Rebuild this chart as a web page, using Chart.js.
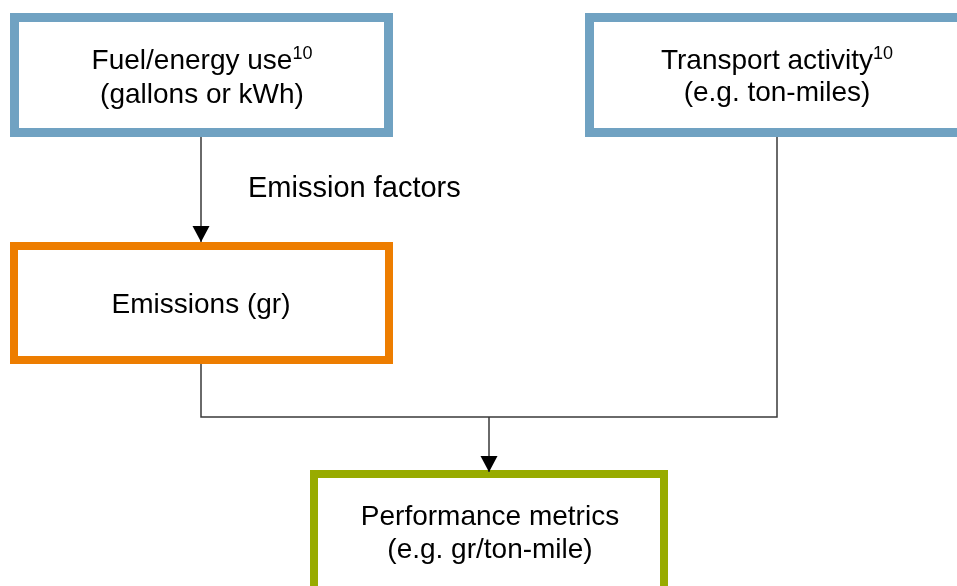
<!DOCTYPE html>
<html>
<head>
<meta charset="utf-8">
<script src="https://cdn.jsdelivr.net/npm/chart.js@4"></script>
<style>
  html, body { margin: 0; padding: 0; background: #fff; }
  #wrap { width: 957px; height: 586px; }
</style>
</head>
<body>
<div id="wrap"><canvas id="myChart" width="957" height="586"></canvas></div>
<script>
// box texts
let boxLines = [
  ['Fuel/energy use', '(gallons or kWh)'],
  ['Transport activity', '(e.g. ton-miles)'],
  ['Emissions (gr)'],
  ['Performance metrics', '(e.g. gr/ton-mile)']
];
let boxSup = ['10', '10', '', ''];
let edgeLabel = 'Emission factors';

// layout of the diagram (in page units, x right / y down)
let boxRect = [
  [10, 13, 393, 137],
  [585, 13, 975, 137],
  [10, 242, 393, 364],
  [310, 470, 668, 600]
];
let boxColor = ['rgb(112,162,194)', 'rgb(112,162,194)', 'rgb(237,125,0)', 'rgb(152,171,0)'];
let boxBorder = [9, 9, 8, 8];
let boxCenterX = [202, 777, 201, 490];
let boxBaseline = [[69, 103], [69, 101], [313], [525, 558]];

// connectors
let links = [
  { pts: [{x: 201, y: 137}, {x: 201, y: 242}], arrow: true },
  { pts: [{x: 201, y: 364}, {x: 201, y: 417}, {x: 777, y: 417}, {x: 777, y: 137}], arrow: false },
  { pts: [{x: 489, y: 417}, {x: 489, y: 472}], arrow: true }
];

let FONT = '"Liberation Sans", Arial, sans-serif';

let diagramPlugin = {
  id: 'diagram',
  beforeDatasetsDraw(chart) {
    let c = chart.ctx, sx = chart.scales.x, sy = chart.scales.y;
    c.save();
    boxRect.forEach((r, i) => {
      let x0 = sx.getPixelForValue(r[0]), y0 = sy.getPixelForValue(r[1]);
      let x1 = sx.getPixelForValue(r[2]), y1 = sy.getPixelForValue(r[3]);
      let b = boxBorder[i];
      c.fillStyle = '#fff';
      c.fillRect(x0, y0, x1 - x0, y1 - y0);
      c.strokeStyle = boxColor[i];
      c.lineWidth = b;
      c.lineJoin = 'miter';
      c.strokeRect(x0 + b / 2, y0 + b / 2, x1 - x0 - b, y1 - y0 - b);
    });
    c.restore();
  },
  afterDatasetsDraw(chart) {
    let c = chart.ctx, sx = chart.scales.x, sy = chart.scales.y;
    c.save();
    // arrow heads
    links.forEach(l => {
      if (!l.arrow) return;
      let p = l.pts[l.pts.length - 1];
      let x = sx.getPixelForValue(p.x), y = sy.getPixelForValue(p.y);
      c.fillStyle = '#000';
      c.beginPath();
      c.moveTo(x, y);
      c.lineTo(x - 8.5, y - 16);
      c.lineTo(x + 8.5, y - 16);
      c.closePath();
      c.fill();
    });
    // box texts
    c.fillStyle = '#000';
    c.textBaseline = 'alphabetic';
    boxLines.forEach((lines, i) => {
      lines.forEach((t, j) => {
        c.font = '28px ' + FONT;
        let w = c.measureText(t).width;
        let sup = j === 0 ? boxSup[i] : '';
        let sw = 0;
        if (sup) {
          c.font = '18px ' + FONT;
          sw = c.measureText(sup).width;
        }
        let cx = sx.getPixelForValue(boxCenterX[i]);
        let by = sy.getPixelForValue(boxBaseline[i][j]);
        let left = cx - (w + sw) / 2;
        c.font = '28px ' + FONT;
        c.textAlign = 'left';
        c.fillText(t, left, by);
        if (sup) {
          c.font = '18px ' + FONT;
          c.fillText(sup, left + w, by - 10);
        }
      });
    });
    c.font = '29px ' + FONT;
    c.textAlign = 'left';
    c.fillText(edgeLabel, sx.getPixelForValue(248), sy.getPixelForValue(197));
    c.restore();
  }
};

let ctx = document.getElementById('myChart').getContext('2d');

let myChart = new Chart(ctx, {
  type: 'scatter',
  data: {
    datasets: links.map(l => ({
      data: l.pts,
      showLine: true,
      borderColor: '#3a3a3a',
      borderWidth: 1.5,
      pointRadius: 0,
      tension: 0
    }))
  },
  options: {
    responsive: false,
    animation: false,
    devicePixelRatio: 1,
    layout: { padding: 0 },
    plugins: { legend: { display: false }, tooltip: { enabled: false } },
    scales: {
      x: { type: 'linear', min: 0, max: 957, display: false },
      y: { type: 'linear', min: 0, max: 586, reverse: true, display: false }
    }
  },
  plugins: [diagramPlugin]
});
</script>
</body>
</html>
